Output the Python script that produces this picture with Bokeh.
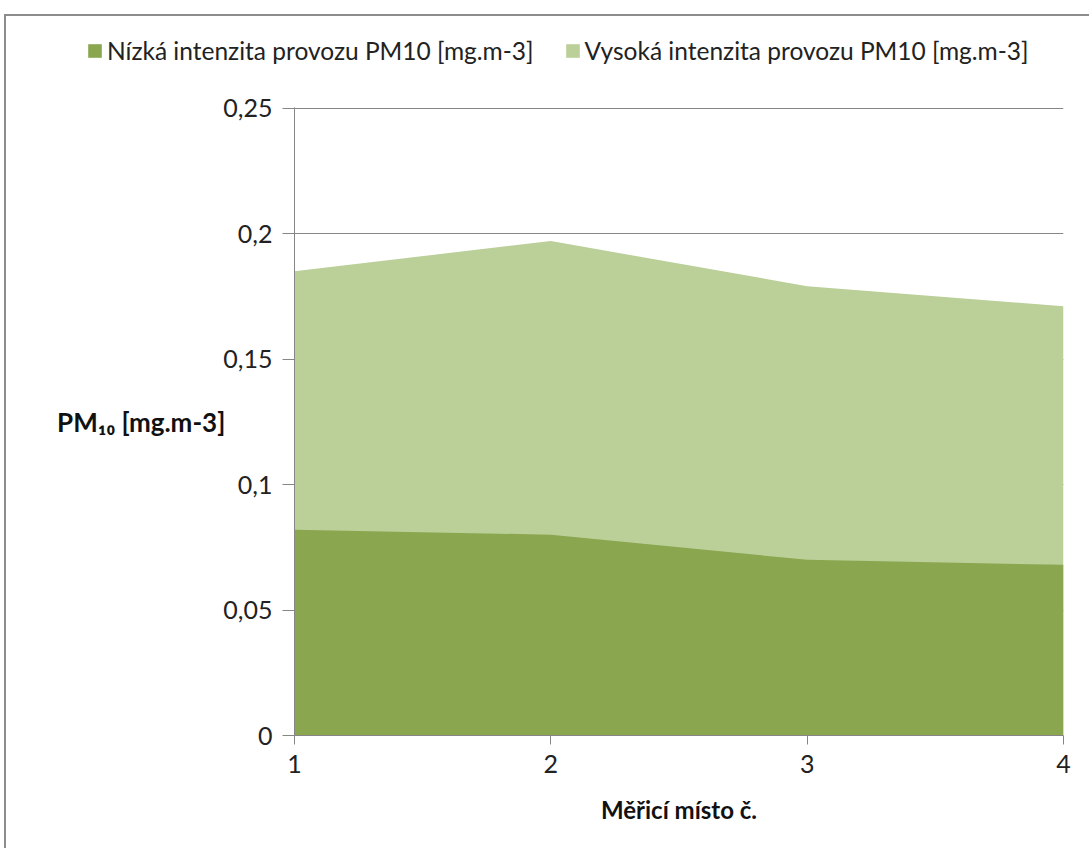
from bokeh.plotting import figure
from bokeh.models import Range1d, FixedTicker, Legend, LegendItem
from bokeh.layouts import column
from bokeh.embed import file_html
from bokeh.resources import INLINE

# data
sites = [1, 2, 3, 4]
low_intensity = [0.082, 0.080, 0.070, 0.068]
high_intensity = [0.185, 0.197, 0.179, 0.171]
y_ticks = [0, 0.05, 0.1, 0.15, 0.2, 0.25]
y_tick_labels = ["0", "0,05", "0,1", "0,15", "0,2", "0,25"]
x_ticks = [1, 2, 3, 4]
series_names = ["Nízká intenzita provozu PM10 [mg.m-3]", "Vysoká intenzita provozu PM10 [mg.m-3]"]
x_title = "Měřicí místo č."
y_title = "PM₁₀ [mg.m-3]"

FONT = "Lato"
DARK = "#8aa64f"
LIGHT = "#bbcf99"
GRID = "#868686"
BORDER = "#8c8c8c"
TOP_H = 80

# legend strip (its own frame spans the full width)
top = figure(width=1089, height=TOP_H, output_backend="svg", toolbar_location=None,
             x_range=Range1d(0, 1), y_range=Range1d(0, 1),
             x_axis_type=None, y_axis_type=None, min_border=0)
top.frame_align = False
top.outline_line_color = None
top.background_fill_alpha = 0
top.border_fill_alpha = 0
top.xgrid.visible = False
top.ygrid.visible = False
# zero-height proxies: only their legend swatches are visible
lg_low = top.varea(x=sites, y1=low_intensity, y2=low_intensity, fill_color=DARK)
lg_high = top.varea(x=sites, y1=high_intensity, y2=high_intensity, fill_color=LIGHT)
legend = Legend(items=[LegendItem(label=series_names[0], renderers=[lg_low]),
                       LegendItem(label=series_names[1], renderers=[lg_high])],
                orientation="horizontal", location=(86, TOP_H - 65),
                padding=0, margin=0, spacing=30, label_standoff=4,
                glyph_width=17, glyph_height=17, label_height=28,
                label_text_font=FONT, label_text_font_size="24.5px", label_text_color="#222222",
                border_line_color=None, background_fill_alpha=0)
top.add_layout(legend, "center")

# main chart
p = figure(width=1089, height=848 - TOP_H, output_backend="svg", toolbar_location=None,
           x_range=Range1d(1, 4), y_range=Range1d(0, 0.2502),
           min_border_left=294, min_border_right=26, min_border_top=107 - TOP_H, min_border_bottom=113)
p.frame_align = False
p.outline_line_color = None
p.background_fill_color = "white"
p.border_fill_alpha = 0

r_high = p.varea(x=sites, y1=[0] * len(sites), y2=high_intensity, fill_color=LIGHT)
r_low = p.varea(x=sites, y1=[0] * len(sites), y2=low_intensity, fill_color=DARK)

p.xaxis.ticker = FixedTicker(ticks=x_ticks)
p.yaxis.ticker = FixedTicker(ticks=y_ticks)
p.yaxis.major_label_overrides = {t: l for t, l in zip(y_ticks, y_tick_labels)}
for ax in (p.xaxis, p.yaxis):
    ax.axis_line_color = GRID
    ax.major_tick_line_color = GRID
    ax.minor_tick_line_color = None
    ax.major_label_text_font = FONT
    ax.major_label_text_font_size = "25px"
    ax.major_label_text_color = "#222222"
    ax.axis_label_text_font = FONT
    ax.axis_label_text_font_style = "bold"
    ax.axis_label_text_color = "#111111"
p.xaxis.axis_label_text_font_size = "24px"
p.yaxis.axis_label_text_font_size = "26px"
p.yaxis.major_tick_in = 0
p.yaxis.major_tick_out = 12
p.xaxis.major_tick_in = 0
p.xaxis.major_tick_out = 9
p.xaxis.major_label_standoff = 10
p.yaxis.major_label_standoff = 10
p.xaxis.axis_label = x_title
p.xaxis.axis_label_standoff = 19
p.yaxis.axis_label = y_title
p.yaxis.axis_label_orientation = "horizontal"
p.yaxis.axis_label_standoff = -5

p.xgrid.grid_line_color = None
p.ygrid.grid_line_color = GRID
p.ygrid.grid_line_width = 1

page = column(top, p, spacing=0)
page.styles = {
    "background": (f"linear-gradient({BORDER},{BORDER}) 4px 14px / 2px 100% no-repeat, "
                   f"linear-gradient({BORDER},{BORDER}) 4px 14px / 100% 2px no-repeat, white"),
}

open("out.html", "w").write(file_html(page, INLINE))
